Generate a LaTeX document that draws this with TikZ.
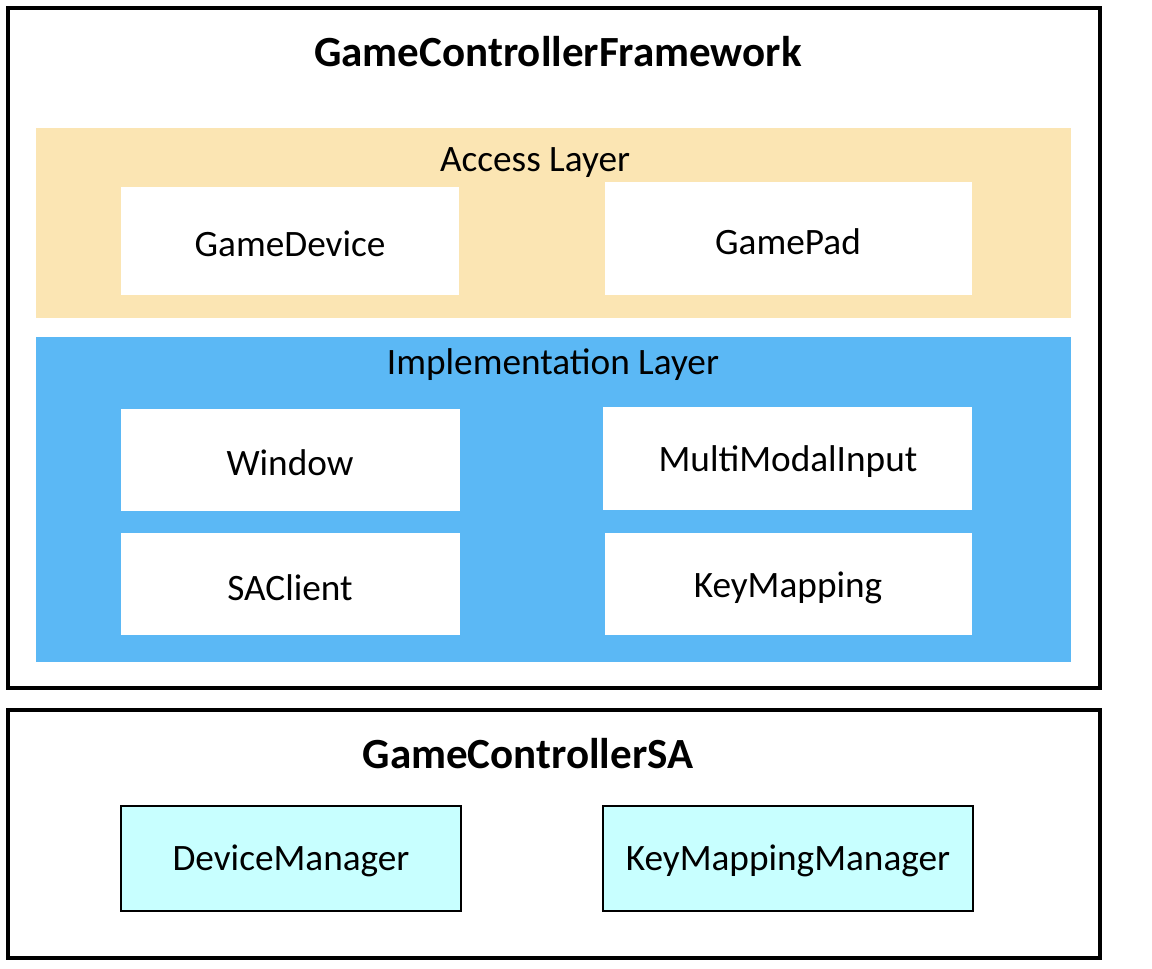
\documentclass[tikz,border=0pt]{standalone}
\usepackage{fontspec}
\setmainfont{Carlito}
\definecolor{accessfill}{RGB}{251,229,179}
\definecolor{implfill}{RGB}{91,184,245}
\definecolor{safill}{RGB}{200,255,255}
\tikzset{
  frame/.style={draw=black, line width=2.4pt},
  layer/.style={draw=none},
  module/.style={fill=white, draw=none},
  samodule/.style={fill=safill, draw=black, line width=1.5pt},
  title/.style={font=\fontsize{30.6}{36}\selectfont\bfseries},
  label/.style={font=\fontsize{26.5}{31}\selectfont}
}
\begin{document}
\begin{tikzpicture}[x=0.025cm, y=-0.025cm]
% Set the canvas to the reference size
\useasboundingbox (0,0) rectangle (1152,968);

% Framework frame
\draw[frame] (8,8) rectangle (1100,688);
\node[title] (fwtitle) at (558,52) {GameControllerFramework};

% Access layer
\fill[accessfill] (36,128) rectangle (1071,318);
\node[label] (access) at (535,163) {Access Layer};
\fill[module] (121,187) rectangle (459,295);
\node[label] (gamedevice) at (290,244) {GameDevice};
\fill[module] (605,182) rectangle (972,295);
\node[label] (gamepad) at (788,242) {GamePad};

% Implementation layer
\fill[implfill] (36,337) rectangle (1071,662);
\node[label] (impl) at (553,365) {Implementation Layer};
\fill[module] (121,409) rectangle (460,511);
\node[label] (window) at (290,463) {Window};
\fill[module] (603,407) rectangle (972,510);
\node[label] (mmi) at (788,462) {MultiModalInput};
\fill[module] (121,533) rectangle (460,635);
\node[label] (saclient) at (290,588) {SAClient};
\fill[module] (605,533) rectangle (972,635);
\node[label] (keymapping) at (788,588) {KeyMapping};

% SA frame
\draw[frame] (8,710) rectangle (1100,958);
\node[title] (satitle) at (528,754) {GameControllerSA};
\draw[samodule] (121,806) rectangle (461,911);
\node[label] (devmgr) at (291,861) {DeviceManager};
\draw[samodule] (603,806) rectangle (973,911);
\node[label] (kmmgr) at (788,861) {KeyMappingManager};
\end{tikzpicture}
\end{document}
